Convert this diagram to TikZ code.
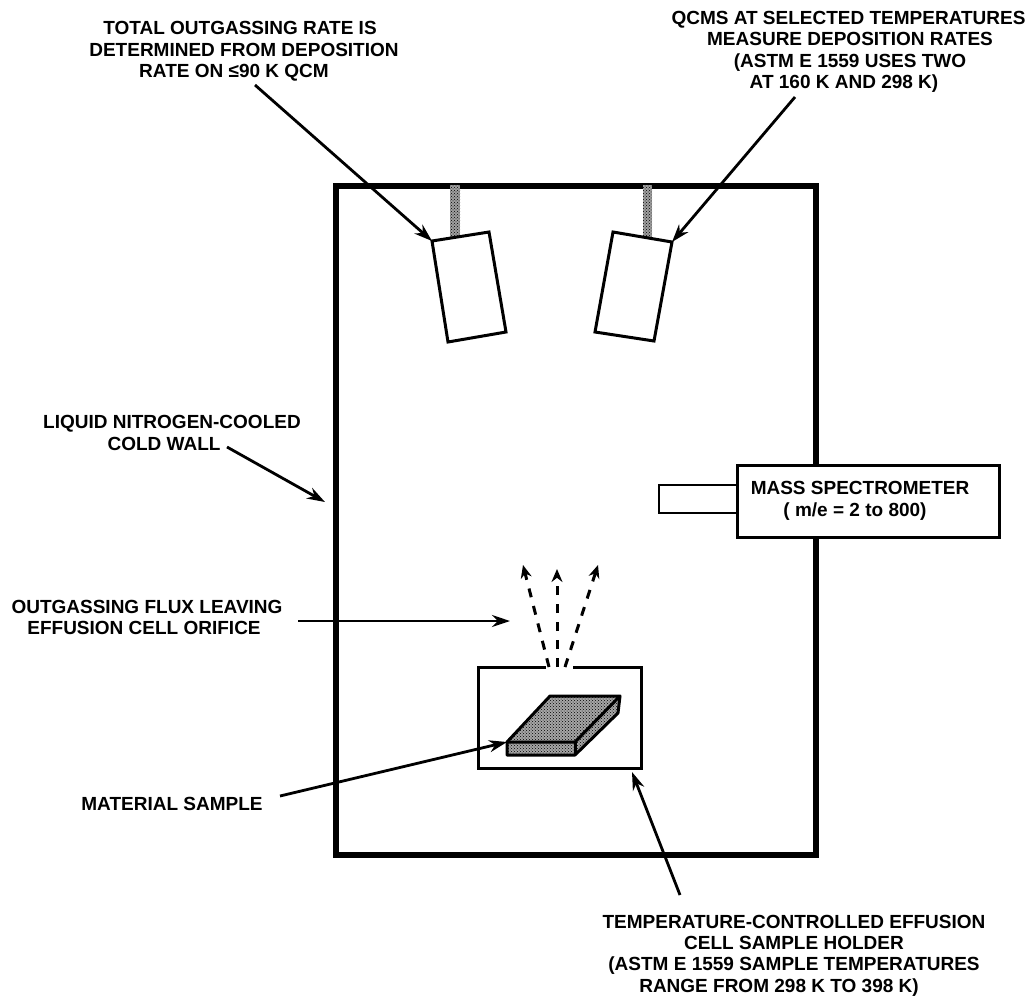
\documentclass[tikz,border=0pt]{standalone}
\usepackage{fontspec}
\setmainfont{Liberation Sans}
\usetikzlibrary{arrows.meta,patterns}
\tikzset{
  lbl/.style={font=\fontsize{19}{21.4}\selectfont\bfseries, align=center, inner sep=0pt, text=black},
  pointer/.style={line width=2.8pt, -{Stealth[length=18pt,width=12pt]}},
  flux/.style={line width=3pt, dash pattern=on 9pt off 9pt, -{Stealth[length=13pt,width=11pt]}},
  wall/.style={line width=5.5pt, draw=black},
  thinbox/.style={line width=3pt, draw=black, line join=miter},
  dotted fill/.style={pattern=crosshatch dots, pattern color=black},
}
\begin{document}
\begin{tikzpicture}[x=1pt,y=-1pt]
\useasboundingbox (0,0) rectangle (1032,996);
% chamber
\node[wall, draw, minimum width=480pt, minimum height=669pt, inner sep=0pt, anchor=north west] (chamber) at (333,183) {};
% stems
\path[fill=gray!75] (450,185) rectangle (460,237);
\path[dotted fill] (450,185) rectangle (460,237);
\path[fill=gray!75] (643,185) rectangle (652,237);
\path[dotted fill] (643,185) rectangle (652,237);
% QCMs
\coordinate (qa) at (432,241);
\coordinate (qb) at (672,242);
\draw[thinbox, fill=white] (qa) -- (489,232) -- (506,332) -- (448,342) -- cycle;
\draw[thinbox, fill=white] (613,232) -- (qb) -- (654,341) -- (595,332) -- cycle;
% mass spectrometer
\node[thinbox, draw, fill=white, minimum width=262pt, minimum height=72pt, inner sep=0pt, anchor=north west] (ms) at (736,464) {};
\draw[line width=2.2pt, draw=black] (736,485) -- (659,485) -- (659,513) -- (736,513);
\node[lbl] (mslabel) at (860,501) {MASS SPECTROMETER\\\hspace*{-10pt}( m/e = 2 to 800)};
% effusion cell
\coordinate (hbl) at (478,768);
\coordinate (hbr) at (641,768);
\draw[thinbox] (546,667) -- (478,667) -- (hbl) -- (hbr) -- (641,667) -- (573,667);
\coordinate (holdpt) at (632,772);
% sample
\coordinate (sfl) at (507,742);
\path[fill=gray!70] (sfl) -- (550,696) -- (620,696) -- (618,713) -- (575,755) -- (507,755) -- cycle;
\path[dotted fill] (sfl) -- (550,696) -- (620,696) -- (618,713) -- (575,755) -- (507,755) -- cycle;
\draw[line width=3pt, draw=black, line join=round] (sfl) -- (550,696) -- (620,696) -- (618,713) -- (575,755) -- (507,755) -- cycle;
\draw[line width=3pt, draw=black] (sfl) -- (575,742) -- (620,696);
\draw[line width=3pt, draw=black] (575,742) -- (575,755);
% flux
\coordinate (f0) at (557,667);
\coordinate (f1) at (557,569);
\coordinate (fl0) at (549,667);
\coordinate (fl1) at (523,565);
\coordinate (fr0) at (565,667);
\coordinate (fr1) at (598,565);
\draw[flux] (f0) -- (f1);
\draw[flux] (fl0) -- (fl1);
\draw[flux] (fr0) -- (fr1);
% labels
\node[lbl] (total) at (240,51.5) {TOTAL OUTGASSING RATE IS\\\hspace*{8pt}DETERMINED FROM DEPOSITION\\RATE ON ≤90 K QCM\hspace*{12pt}};
\node[lbl] (qcms) at (850,52) {QCMS AT SELECTED TEMPERATURES\hspace*{3pt}\\MEASURE DEPOSITION RATES\\(ASTM E 1559 USES TWO\\AT 160 K AND 298 K)\hspace*{12pt}};
\node[lbl] (cold) at (172,433) {LIQUID NITROGEN-COOLED\\COLD WALL\hspace*{16pt}};
\node[lbl] (flux) at (147,617.5) {OUTGASSING FLUX LEAVING\\EFFUSION CELL ORIFICE\hspace*{6pt}};
\node[lbl] (sample) at (172,804) {MATERIAL SAMPLE};
\node[lbl] (holder) at (794,955.5) {TEMPERATURE-CONTROLLED EFFUSION\\CELL SAMPLE HOLDER\hspace*{26pt}\\(ASTM E 1559 SAMPLE TEMPERATURES\\RANGE FROM 298 K TO 398 K)\hspace*{30pt}};
% pointers
\coordinate (pa) at (255,85);
\coordinate (pb) at (795,97);
\coordinate (pc) at (227,447);
\coordinate (pc2) at (325,502);
\coordinate (pd) at (298,621);
\coordinate (pd2) at (510,621);
\coordinate (pe) at (280,796);
\coordinate (pf) at (680,895);
\draw[pointer] (pa) -- (qa);
\draw[pointer] (pb) -- (qb);
\draw[pointer] (pc) -- (pc2);
\draw[pointer] (pd) -- (pd2);
\draw[pointer] (pe) -- (sfl);
\draw[pointer] (pf) -- (holdpt);
\end{tikzpicture}
\end{document}
